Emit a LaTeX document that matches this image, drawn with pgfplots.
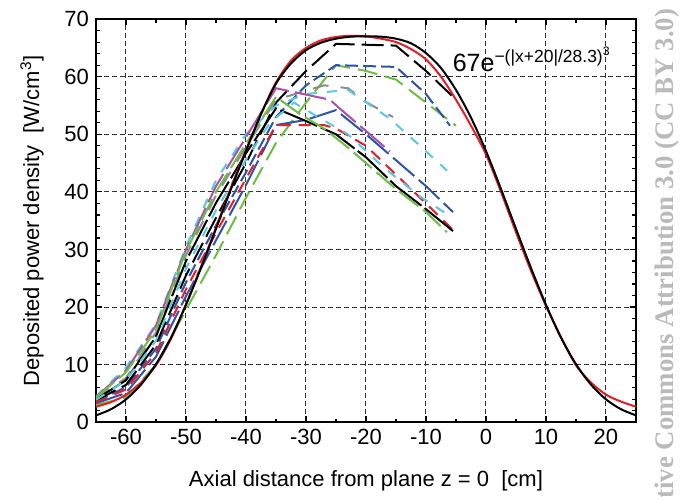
\documentclass[border=0pt]{standalone}
\usepackage{fontspec}
\setmainfont{Liberation Sans}
\newfontfamily\wmfont{Liberation Serif}
\usepackage{pgfplots}
\pgfplotsset{compat=1.18}
\usetikzlibrary{calc}

\definecolor{cblue}{RGB}{46,84,166}
\definecolor{cgreen}{RGB}{109,190,69}
\definecolor{ccyan}{RGB}{92,200,220}
\definecolor{cmag}{RGB}{170,80,170}
\definecolor{cgray}{RGB}{140,140,140}
\definecolor{cred}{RGB}{228,30,38}

\begin{document}
\begin{tikzpicture}
\begin{axis}[
  name=ax,
  scale only axis,
  width=270pt, height=201.6pt,
  xmin=-65, xmax=25, ymin=0, ymax=70,
  xtick={-60,-50,...,20}, ytick={0,10,...,70},
  minor x tick num=1, minor y tick num=4,
  grid=major,
  major grid style={black!80, line width=0.5pt, dash pattern=on 2.5pt off 1.5pt},
  axis line style={line width=1.2pt},
  major tick length=3pt, minor tick length=1.8pt,
  tick style={black, line width=0.6pt},
  tick label style={font=\fontsize{11}{13}\selectfont},
  /pgf/number format/assume math mode=true,
  xlabel={Axial distance from plane z = 0~~[cm]},
  ylabel={Deposited power density~~[W/cm\textsuperscript{3}]},
  label style={font=\fontsize{11}{13}\selectfont},
  xlabel style={at={(axis description cs:0.5,-0.145)}, anchor=center},
  ylabel style={at={(axis description cs:-0.1185,0.5)}, anchor=center},
  every axis plot/.append style={line width=1pt},
]
% measured profiles
\addplot[cgreen, dash pattern=on 10pt off 4pt] coordinates {
  (-65,3.0) (-60,4.3) (-55,10) (-50,19.5) (-45,29) (-40,39) (-35,48.5)
  (-30,55.5) (-25,62) (-20,61) (-15,59.5) (-10,55.5) (-5,51.5)};
\addplot[cblue, dash pattern=on 6.5pt off 2.5pt] coordinates {
  (-65,3.6) (-60,6.1) (-55,12.8) (-50,24.3) (-45,34.2) (-40,43.4) (-35,53)
  (-30,58.5) (-25,62) (-15,61.7) (-10,57) (-6,51.5)};
\addplot[black, dash pattern=on 11pt off 3.5pt] coordinates {
  (-65,3.8) (-60,6.5) (-55,13.5) (-50,25.5) (-45,35.5) (-40,45) (-35,55.5)
  (-30,61) (-25,65.7) (-15,65.4) (-10,61) (-5,56)};
\addplot[cgray, dash pattern=on 8pt off 6pt] coordinates {
  (-65,4.2) (-60,7.7) (-55,15.6) (-50,29) (-45,39.4) (-40,47.8) (-35,56)
  (-27,58.5) (-23,58) (-20,55.6) (-15.5,53)};
\addplot[ccyan, dash pattern=on 5pt off 5pt] coordinates {
  (-65,4.5) (-60,9.5) (-55,17) (-50,30.5) (-45,42) (-40,50) (-35,55)
  (-30,57) (-23,57.7) (-16,52.7) (-11,48) (-6.5,43.7)};
\addplot[cmag, dash pattern=on 16pt off 3pt] coordinates {
  (-65,4.4) (-60,9) (-55,16.8) (-50,30) (-45,41) (-40,49.5) (-35,58)
  (-26,56) (-24.4,54.5) (-16,47)};
\addplot[cblue, dash pattern=on 14pt off 3pt] coordinates {
  (-65,3.3) (-60,5.1) (-55,11.4) (-50,21.9) (-45,31.6) (-40,41.2) (-35,51.6)
  (-30,52.5) (-25,54.2) (-20,50) (-15,45.5) (-10,41) (-5.5,36.5)};
\addplot[cred, dash pattern=on 6pt off 4pt] coordinates {
  (-65,3.5) (-60,5.7) (-55,12.1) (-50,23.1) (-45,32.9) (-40,42.3) (-35,51.6)
  (-27,51.6) (-25,51) (-20,48) (-15,43) (-10,38) (-5.5,33.4)};
\addplot[black, dash pattern=on 20pt off 2pt] coordinates {
  (-65,4) (-60,7.3) (-55,14.9) (-50,28) (-45,38.1) (-40,46.7) (-35,54.5)
  (-30,52.3) (-25,50) (-20,46) (-15,41) (-10,37) (-5.5,33.2)};
\addplot[cgreen, dash pattern=on 12pt off 3pt] coordinates {
  (-65,4.3) (-60,8.7) (-55,16) (-50,29.7) (-45,40) (-40,48.4) (-35,56.5)
  (-31,53.5) (-27,51) (-23,47.7) (-20,45) (-15,40.5) (-10,36.5) (-6.5,33)};
\addplot[ccyan, dash pattern=on 5pt off 5pt] coordinates {
  (-65,3.9) (-60,7.3) (-55,14.2) (-50,26.7) (-45,36.8) (-40,45.6) (-36,52)
  (-32,55.5) (-28,53) (-23,50) (-17,44.2) (-11,39.2) (-6,35.8)};
% fits
\addplot[cred, smooth] coordinates {
  (-65,2.7) (-62.5,3.5) (-60,4.8) (-57.5,6.9) (-55,9.9) (-52.5,14.5) (-50,20.5)
  (-47.5,27) (-45,33.8) (-42.5,40.8) (-40,47.3) (-37.5,53.5) (-35,59)
  (-32.5,62.8) (-30,65) (-27.5,66.3) (-25,66.9) (-22.5,67.1) (-20,67)
  (-17.5,66.6) (-15,66) (-12.5,64.8) (-10,63) (-7.5,60) (-5,56) (-2.5,51.5)
  (0,46.5) (2.5,40) (5,33) (7.5,26.3) (10,20.2) (12.5,14.8) (15,9.9)
  (17.5,6.9) (20,4.8) (22.5,3.6) (25,2.7)};
\addplot[black, smooth] coordinates {
  (-65,1.2) (-62.5,2.27) (-60,3.98) (-57.5,6.54) (-55,10.1) (-52.5,14.7)
  (-50,20.4) (-47.5,26.8) (-45,33.6) (-42.5,40.5) (-40,47.1) (-37.5,53.5)
  (-35,58.8) (-32.5,62.3) (-30,64.6) (-27.5,65.9) (-25,66.6) (-22.5,66.95)
  (-20,67) (-17.5,66.95) (-15,66.6) (-12.5,65.8) (-10,64.1) (-7.5,61.5)
  (-5,57.7) (-2.5,52.9) (0,47.1) (2.5,40.5) (5,33.6) (7.5,26.8) (10,20.4)
  (12.5,14.7) (15,10.1) (17.5,6.54) (20,3.98) (22.5,2.27) (25,1.2)};
\node[anchor=base west, inner sep=0pt, font=\fontsize{12.5}{14}\selectfont]
  at (axis cs:-5.6,60.9) {67e\textsuperscript{−(|x+20|/28.3)\textsuperscript{3}}};
\end{axis}
\node[rotate=90, anchor=east, inner sep=0pt, text=black!27,
  font=\wmfont\bfseries\fontsize{13.4}{15}\selectfont]
  at ($(ax.south west)+(285.5pt,207pt)$) {Creative Commons Attribution 3.0 (CC BY 3.0)};
\pgfresetboundingbox
\path[use as bounding box] ($(ax.south west)+(-48pt,-37.35pt)$) rectangle ($(ax.south west)+(294.5pt,211.15pt)$);
\end{tikzpicture}
\end{document}
